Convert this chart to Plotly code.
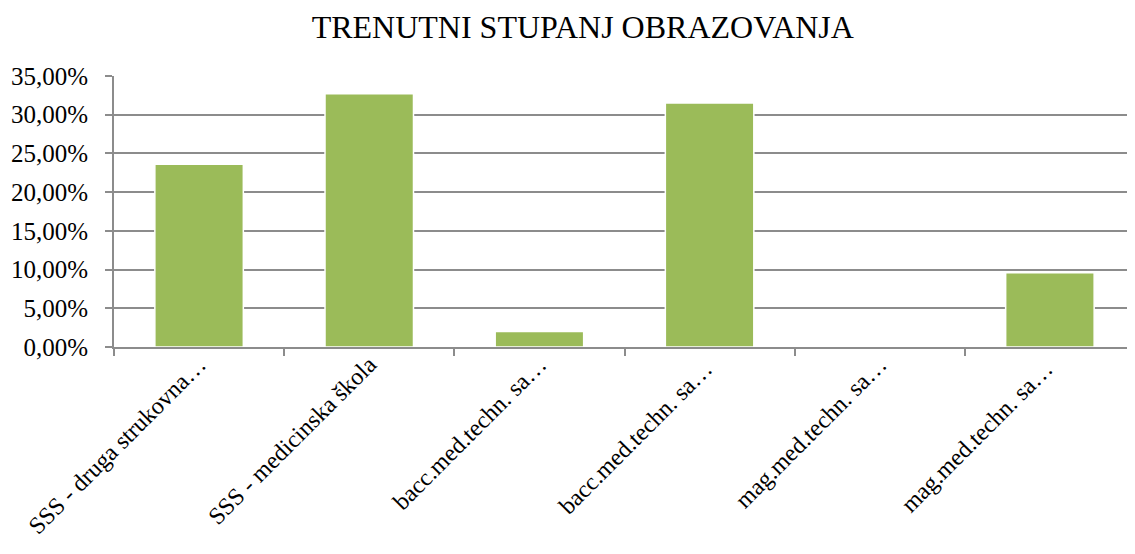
import plotly.graph_objects as go

categories = [
    "SSS - druga strukovna…",
    "SSS - medicinska škola",
    "bacc.med.techn. sa…",
    "bacc.med.techn. sa… ",
    "mag.med.techn. sa…",
    "mag.med.techn. sa… ",
]
values = [0.236, 0.327, 0.020, 0.315, 0.0, 0.096]
y_ticks = [0, 0.05, 0.10, 0.15, 0.20, 0.25, 0.30, 0.35]

FONT = "Liberation Serif, Times New Roman, serif"

fig = go.Figure(
    go.Bar(
        x=categories,
        y=values,
        width=0.52,
        marker=dict(color="#9BBB59", line=dict(color="#FFFFFF", width=1.5)),
    )
)

# page body has an 8px default margin, so the figure is sized/offset accordingly
fig.update_layout(
    width=1127,
    height=546,
    separators=",.",
    paper_bgcolor="white",
    plot_bgcolor="white",
    margin=dict(l=106, r=0, t=68, b=207),
    showlegend=False,
    title=dict(
        text="TRENUTNI STUPANJ OBRAZOVANJA",
        x=0.51,
        xanchor="center",
        y=1 - 19 / 546,
        yanchor="middle",
        font=dict(family=FONT, size=32, color="black"),
    ),
    font=dict(family=FONT, size=25, color="black"),
)

fig.update_yaxes(
    range=[0, 0.35],
    tickvals=y_ticks,
    tickformat=".2%",
    showgrid=True,
    gridcolor="#8C8C8C",
    gridwidth=1.8,
    showline=True,
    linecolor="#8C8C8C",
    linewidth=1.8,
    ticks="outside",
    ticklen=7,
    tickcolor="#8C8C8C",
    tickwidth=1.8,
    zeroline=False,
    ticklabelstandoff=12,
    automargin=False,
)

fig.update_xaxes(
    tickangle=-45,
    showline=True,
    linecolor="#8C8C8C",
    linewidth=1.8,
    ticks="outside",
    tickson="boundaries",
    ticklen=7,
    tickcolor="#8C8C8C",
    tickwidth=1.8,
    showgrid=False,
    tickfont=dict(family=FONT, size=24),
    ticklabelstandoff=-8,
    automargin=False,
)

fig.write_html("out.html")
